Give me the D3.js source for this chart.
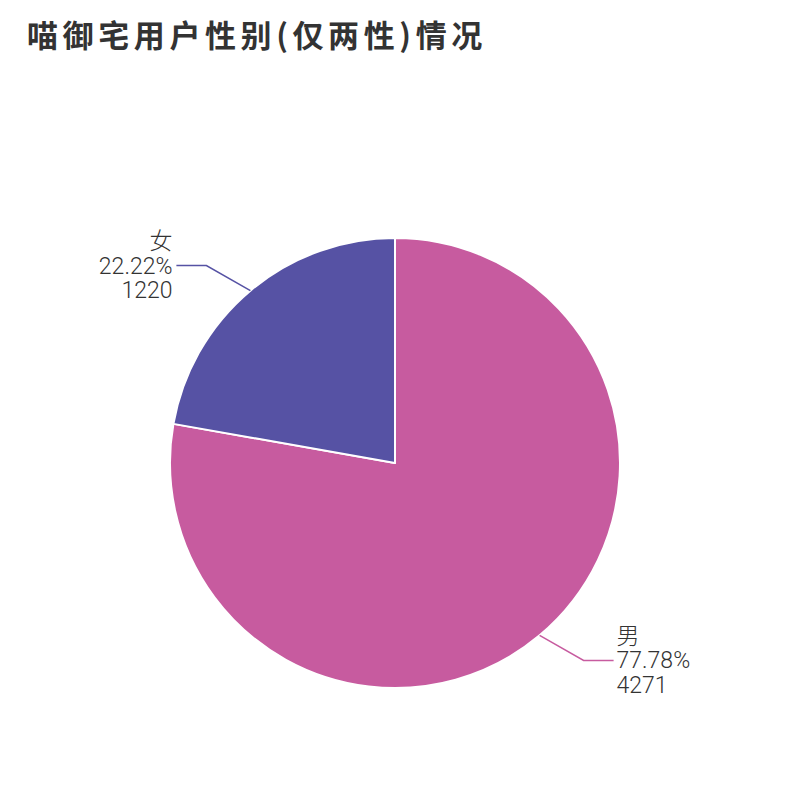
<!DOCTYPE html>
<html>
<head>
<meta charset="utf-8">
<script src="https://cdn.jsdelivr.net/npm/d3@7"></script>
<style>
  body { margin: 0; background: #fff; }
  text { font-family: "Noto Sans CJK SC", "Noto Sans", sans-serif; }
  .lbl { font-family: Roboto, "Noto Sans CJK SC", sans-serif; font-weight: 300; }
</style>
</head>
<body>
<svg id="chart" width="800" height="800"></svg>
<script>
const categories = ["男", "女"];
const counts = [4271, 1220];
const colors = ["#c75b9f", "#5652a4"];

const svg = d3.select("#chart");
const cx = 395, cy = 463, radius = 225;

svg.append("text")
  .attr("x", 27).attr("y", 47)
  .attr("font-size", 31).attr("font-weight", "bold")
  .attr("letter-spacing", 4.6)
  .attr("fill", "#333")
  .text("喵御宅用户性别(仅两性)情况");

const data = categories.map((c, i) => ({ name: c, value: counts[i] }));
const total = d3.sum(counts);

const pie = d3.pie().sort(null).value(d => d.value);
const arc = d3.arc().innerRadius(0).outerRadius(radius);
const arcs = pie(data);

const g = svg.append("g").attr("transform", `translate(${cx},${cy})`);

g.selectAll("path.slice")
  .data(arcs)
  .enter().append("path")
  .attr("class", "slice")
  .attr("d", arc)
  .attr("fill", (d, i) => colors[i])
  .attr("stroke", "#fff")
  .attr("stroke-width", 2)
  .attr("stroke-linejoin", "round");

// leader lines + labels
arcs.forEach((d, i) => {
  const mid = (d.startAngle + d.endAngle) / 2;
  const sx = Math.sin(mid), sy = -Math.cos(mid);
  const p0 = [sx * radius, sy * radius];
  const p1 = [p0[0] + Math.sign(sx) * 44, p0[1] + Math.sign(sy) * 25];
  const right = sx > 0;
  const p2 = [p1[0] + (right ? 30 : -30), p1[1]];
  g.append("polyline")
    .attr("points", [p0, p1, p2].map(p => p.join(",")).join(" "))
    .attr("fill", "none")
    .attr("stroke", colors[i])
    .attr("stroke-width", 1.5);
  const tx = p2[0] + (right ? 3 : -4);
  const pct = (d.data.value / total * 100).toFixed(2) + "%";
  const lines = [d.data.name, pct, String(d.data.value)];
  const t = g.append("text")
    .attr("class", "lbl")
    .attr("x", tx)
    .attr("text-anchor", right ? "start" : "end")
    .attr("font-size", 23)
    .attr("fill", "#333");
  lines.forEach((s, k) => {
    t.append("tspan")
      .attr("x", tx)
      .attr("y", p2[1] + (k - 1) * 24.5)
      .attr("dy", "0.35em")
      .text(s);
  });
});
</script>
</body>
</html>
